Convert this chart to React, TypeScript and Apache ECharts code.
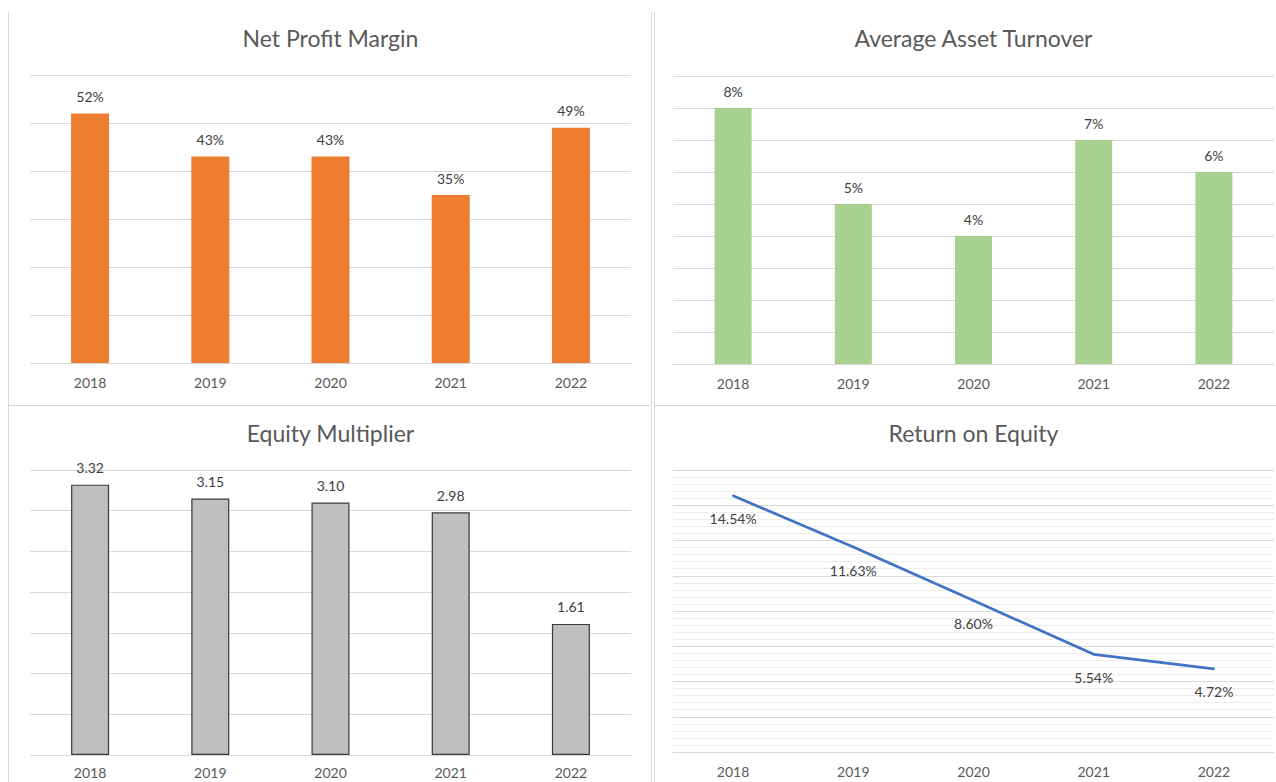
import React, { useEffect, useRef } from "react";
import * as echarts from "echarts";

const categories = ["2018", "2019", "2020", "2021", "2022"];
const netProfitMargin = [0.52, 0.43, 0.43, 0.35, 0.49];
const assetTurnover = [0.08, 0.05, 0.04, 0.07, 0.06];
const equityMultiplier = [3.32, 3.15, 3.1, 2.98, 1.61];
const returnOnEquity = [0.1454, 0.1163, 0.086, 0.0554, 0.0472];
const chartTitles = ["Net Profit Margin", "Average Asset Turnover", "Equity Multiplier", "Return on Equity"];
const yMax = [0.6, 0.09, 3.5, 0.16];
const yInterval = [0.1, 0.01, 0.5, 0.02];

const FONT = "Lato";
const GRID_COLOR = "#d9d9d9";

export default function App() {
  const ref = useRef<HTMLDivElement>(null);
  useEffect(() => {
    if (!ref.current) return;
    const chart = echarts.init(ref.current, undefined, { renderer: "svg" });
    const grids = [
      { left: 30, top: 75, width: 601, height: 288 },
      { left: 673, top: 76, width: 601, height: 288 },
      { left: 30, top: 470, width: 601, height: 285 },
      { left: 673, top: 470, width: 601, height: 282 },
    ];
    const titlePos = [
      { x: 330.5, y: 26 },
      { x: 973.5, y: 26 },
      { x: 330.5, y: 421 },
      { x: 973.5, y: 421 },
    ];
    const labelMargins = [12, 12, 10, 12];
    const pct0 = (p: any) => Math.round(p.value * 100) + "%";
    const lineColor = GRID_COLOR;
    const border = "#d9d9d9";
    const option: any = {
      animation: false,
      backgroundColor: "#ffffff",
      title: chartTitles.map((t, i) => ({
        text: t,
        left: titlePos[i].x,
        top: titlePos[i].y,
        padding: 0,
        textAlign: "center",
        textStyle: { fontFamily: FONT, fontSize: 23, fontWeight: "normal", color: "#595959" },
      })),
      grid: grids.map((g) => ({ ...g, containLabel: false, outerBoundsMode: "none" })),
      xAxis: grids.map((_, i) => ({
        type: "category",
        gridIndex: i,
        data: categories,
        axisLine: { show: true, lineStyle: { color: lineColor, width: 1 } },
        axisTick: { show: false },
        axisLabel: { color: "#595959", fontSize: 14, fontFamily: FONT, margin: labelMargins[i] },
        splitLine: { show: false },
      })),
      yAxis: grids.map((_, i) => ({
        type: "value",
        gridIndex: i,
        min: 0,
        max: yMax[i],
        interval: yInterval[i],
        axisLine: { show: false },
        axisTick: { show: false },
        axisLabel: { show: false },
        splitLine: { show: true, lineStyle: { color: GRID_COLOR, width: 1 } },
        ...(i === 3
          ? {
              minorTick: { show: false, splitNumber: 5 },
              minorSplitLine: { show: true, lineStyle: { color: "#ececec", width: 1 } },
            }
          : {}),
      })),
      series: [
        {
          type: "bar",
          xAxisIndex: 0,
          yAxisIndex: 0,
          data: netProfitMargin,
          barWidth: 38,
          itemStyle: { color: "#ed7d31" },
          label: { show: true, position: "top", distance: 10, formatter: pct0, color: "#404040", fontSize: 14, fontFamily: FONT },
        },
        {
          type: "bar",
          xAxisIndex: 1,
          yAxisIndex: 1,
          data: assetTurnover,
          barWidth: 37,
          itemStyle: { color: "#a9d18e" },
          label: { show: true, position: "top", distance: 10, formatter: pct0, color: "#404040", fontSize: 14, fontFamily: FONT },
        },
        {
          type: "bar",
          xAxisIndex: 2,
          yAxisIndex: 2,
          data: equityMultiplier,
          barWidth: 38,
          itemStyle: { color: "#bfbfbf", borderColor: "#3a3a3a", borderWidth: 1.2 },
          label: {
            show: true,
            position: "top",
            distance: 10,
            formatter: (p: any) => Number(p.value).toFixed(2),
            color: "#404040",
            fontSize: 14,
            fontFamily: FONT,
          },
        },
        {
          type: "line",
          xAxisIndex: 3,
          yAxisIndex: 3,
          data: returnOnEquity,
          symbol: "circle",
          symbolSize: 2,
          showSymbol: true,
          itemStyle: { color: "#4472c4" },
          lineStyle: { color: "#4472c4", width: 2.75 },
          label: {
            show: true,
            position: "bottom",
            distance: 15,
            formatter: (p: any) => (p.value * 100).toFixed(2) + "%",
            color: "#404040",
            fontSize: 14,
            fontFamily: FONT,
          },
        },
      ],
      graphic: [
        { type: "line", shape: { x1: 8.5, y1: 12, x2: 8.5, y2: 782 }, style: { stroke: border, lineWidth: 1 }, silent: true },
        { type: "line", shape: { x1: 651.5, y1: 12, x2: 651.5, y2: 782 }, style: { stroke: border, lineWidth: 1 }, silent: true },
        { type: "line", shape: { x1: 654.5, y1: 12, x2: 654.5, y2: 782 }, style: { stroke: border, lineWidth: 1 }, silent: true },
        { type: "line", shape: { x1: 8, y1: 405.5, x2: 652, y2: 405.5 }, style: { stroke: border, lineWidth: 1 }, silent: true },
        { type: "line", shape: { x1: 654, y1: 405.5, x2: 1276, y2: 405.5 }, style: { stroke: border, lineWidth: 1 }, silent: true },
      ],
    };
    chart.setOption(option);
    return () => chart.dispose();
  }, []);
  return (
    <div
      ref={ref}
      style={{ position: "absolute", left: 0, top: 0, width: 1276, height: 782, background: "#fff" }}
    />
  );
}
